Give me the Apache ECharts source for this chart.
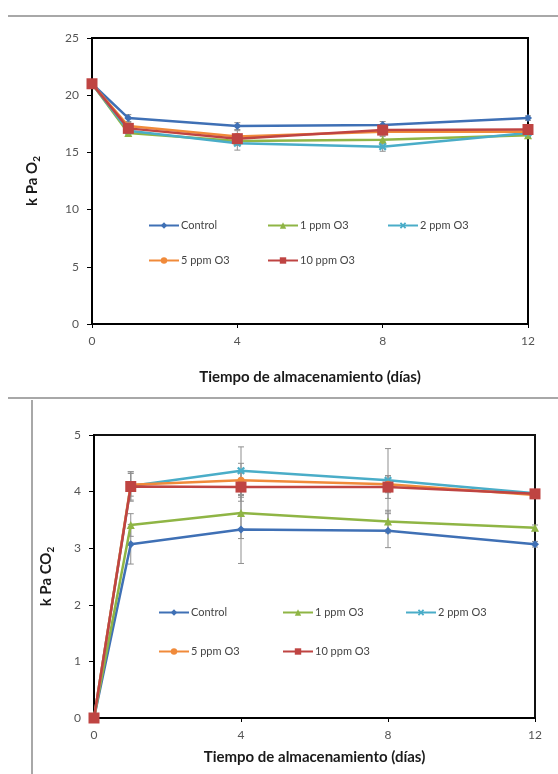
<!DOCTYPE html>
<html>
<head>
<meta charset="utf-8">
<title>O2 y CO2 durante el almacenamiento</title>
<script src="https://cdn.jsdelivr.net/npm/echarts@6/dist/echarts.min.js"></script>
<style>
html, body { margin: 0; padding: 0; background: #fff; }
#chart { width: 558px; height: 774px; }
</style>
</head>
<body>
<div id="chart"></div>
<script>
var dias = [0, 1, 4, 8, 12];
var nombres = ['Control', '1 ppm O3', '2 ppm O3', '5 ppm O3', '10 ppm O3'];

// k Pa O2
var o2Control = [21, 18.0, 17.3, 17.4, 18.0];
var o2Ppm1 = [21, 16.7, 16.0, 16.1, 16.5];
var o2Ppm2 = [21, 16.9, 15.8, 15.5, 16.7];
var o2Ppm5 = [21, 17.3, 16.4, 16.8, 16.8];
var o2Ppm10 = [21, 17.1, 16.2, 16.95, 17.0];
var o2ErrControl = [0, 0.3, 0.3, 0.3, 0.2];
var o2ErrPpm1 = [0, 0.3, 0.4, 0.3, 0.2];
var o2ErrPpm2 = [0, 0.3, 0.6, 0.4, 0.3];
var o2ErrPpm5 = [0, 0.3, 0.5, 0.3, 0.2];
var o2ErrPpm10 = [0, 0.3, 0.4, 0.3, 0.2];

// k Pa CO2
var co2Control = [0, 3.07, 3.33, 3.31, 3.07];
var co2Ppm1 = [0, 3.41, 3.62, 3.47, 3.36];
var co2Ppm2 = [0, 4.10, 4.37, 4.20, 3.97];
var co2Ppm5 = [0, 4.12, 4.20, 4.13, 3.94];
var co2Ppm10 = [0, 4.09, 4.08, 4.08, 3.96];
var co2ErrControl = [0, 0.35, 0.6, 0.3, 0.05];
var co2ErrPpm1 = [0, 0.2, 0.45, 0.2, 0.05];
var co2ErrPpm2 = [0, 0.25, 0.42, 0.56, 0.05];
var co2ErrPpm5 = [0, 0.2, 0.3, 0.15, 0.05];
var co2ErrPpm10 = [0, 0.26, 0.25, 0.2, 0.05];

var o2Ticks = [0, 25, 5];
var co2Ticks = [0, 5, 1];
var diaTicks = [0, 12, 4];

var colores = ['#3F70B5', '#8FB545', '#4AADC8', '#F08A3A', '#BF4442'];
var simbolos = ['diamond', 'triangle',
  'path://M2,0L5,3L8,0L10,2L7,5L10,8L8,10L5,7L2,10L0,8L3,5L0,2Z',
  'circle', 'rect'];
var tamanos = [8, 8, 8, 7, 11];
var fuente = 'Lato';

function serieLinea(i, valores, eje) {
  return {
    name: nombres[i],
    type: 'line',
    xAxisIndex: eje,
    yAxisIndex: eje,
    data: dias.map(function (d, k) { return [d, valores[k]]; }),
    symbol: simbolos[i],
    symbolSize: tamanos[i],
    showSymbol: true,
    lineStyle: { width: 2.5, color: colores[i] },
    itemStyle: { color: colores[i] },
    z: 2 + i
  };
}

function serieError(valores, errores, eje) {
  var datos = [];
  for (var k = 0; k < dias.length; k++) {
    if (errores[k] > 0) datos.push([dias[k], valores[k] - errores[k], valores[k] + errores[k]]);
  }
  return {
    type: 'custom',
    xAxisIndex: eje,
    yAxisIndex: eje,
    silent: true,
    z: 1,
    encode: { x: 0, y: [1, 2] },
    data: datos,
    renderItem: function (params, api) {
      var lo = api.coord([api.value(0), api.value(1)]);
      var hi = api.coord([api.value(0), api.value(2)]);
      var w = 3;
      var st = { stroke: '#8f8f8f', lineWidth: 1 };
      return {
        type: 'group',
        children: [
          { type: 'line', shape: { x1: hi[0], y1: hi[1], x2: lo[0], y2: lo[1] }, style: st },
          { type: 'line', shape: { x1: hi[0] - w, y1: hi[1], x2: hi[0] + w, y2: hi[1] }, style: st },
          { type: 'line', shape: { x1: lo[0] - w, y1: lo[1], x2: lo[0] + w, y2: lo[1] }, style: st }
        ]
      };
    }
  };
}

function ejeX(grid, gap) {
  return {
    gridIndex: grid,
    type: 'value',
    min: diaTicks[0], max: diaTicks[1], interval: diaTicks[2],
    axisLine: { onZero: false, lineStyle: { color: '#000', width: 2 } },
    axisTick: { length: 4, lineStyle: { color: '#000' } },
    axisLabel: { margin: 11, fontFamily: fuente, fontSize: 12, color: '#555' },
    splitLine: { show: false },
    name: 'Tiempo de almacenamiento (días)',
    nameLocation: 'middle',
    nameGap: gap,
    nameTextStyle: { fontFamily: fuente, fontSize: 15, fontWeight: 'bold', color: '#1a1a1a' }
  };
}

function ejeY(grid, ticks, nombre, gap) {
  return {
    gridIndex: grid,
    type: 'value',
    min: ticks[0], max: ticks[1], interval: ticks[2],
    axisLine: { show: true, onZero: false, lineStyle: { color: '#000', width: 2 } },
    axisTick: { show: true, length: 5, lineStyle: { color: '#000' } },
    axisLabel: { margin: 13, fontFamily: fuente, fontSize: 12, color: '#555' },
    splitLine: { show: false },
    name: nombre,
    nameLocation: 'middle',
    nameRotate: 90,
    nameGap: gap,
    nameTextStyle: {
      rich: {
        t: { fontFamily: fuente, fontSize: 15, fontWeight: 'bold', color: '#1a1a1a' },
        s: { fontFamily: fuente, fontSize: 10, fontWeight: 'bold', color: '#1a1a1a', padding: [9, 0, 0, 0] }
      }
    }
  };
}

var legTop = [[148, 227], [267, 227], [387, 227], [148, 262], [267, 262]];
var legBot = [[158, 614], [282, 614], [405, 614], [158, 653], [282, 653]];
var leyendas = [];
[legTop, legBot].forEach(function (pos) {
  pos.forEach(function (p, i) {
    leyendas.push({
      data: [nombres[i]],
      left: p[0],
      top: p[1] - 7,
      padding: 0,
      itemWidth: 30,
      itemHeight: 8,
      itemGap: 0,
      selectedMode: false,
      textStyle: { fontFamily: fuente, fontSize: 11, color: '#444', padding: [0, 0, 0, -3] }
    });
  });
});

var series = [
  serieError(o2Control, o2ErrControl, 0),
  serieError(o2Ppm1, o2ErrPpm1, 0),
  serieError(o2Ppm2, o2ErrPpm2, 0),
  serieError(o2Ppm5, o2ErrPpm5, 0),
  serieError(o2Ppm10, o2ErrPpm10, 0),
  serieError(co2Control, co2ErrControl, 1),
  serieError(co2Ppm1, co2ErrPpm1, 1),
  serieError(co2Ppm2, co2ErrPpm2, 1),
  serieError(co2Ppm5, co2ErrPpm5, 1),
  serieError(co2Ppm10, co2ErrPpm10, 1),
  serieLinea(0, o2Control, 0),
  serieLinea(1, o2Ppm1, 0),
  serieLinea(2, o2Ppm2, 0),
  serieLinea(3, o2Ppm5, 0),
  serieLinea(4, o2Ppm10, 0),
  serieLinea(0, co2Control, 1),
  serieLinea(1, co2Ppm1, 1),
  serieLinea(2, co2Ppm2, 1),
  serieLinea(3, co2Ppm5, 1),
  serieLinea(4, co2Ppm10, 1)
];

var chart = echarts.init(document.getElementById('chart'));
chart.setOption({
  animation: false,
  backgroundColor: '#fff',
  grid: [
    { left: 92, top: 38, width: 436, height: 286, show: true, borderColor: '#000', borderWidth: 2, backgroundColor: '#fff' },
    { left: 94, top: 435, width: 441, height: 283, show: true, borderColor: '#111', borderWidth: 2, backgroundColor: '#fff' }
  ],
  xAxis: [ejeX(0, 46), ejeX(1, 32)],
  yAxis: [
    ejeY(0, o2Ticks, '{t|k Pa O}{s|2}', 50),
    ejeY(1, co2Ticks, '{t|k Pa CO}{s|2}', 38)
  ],
  legend: leyendas,
  graphic: [
    { type: 'line', shape: { x1: 8, y1: 16, x2: 558, y2: 16 }, style: { stroke: '#a8a8a8', lineWidth: 2 } },
    { type: 'line', shape: { x1: 8, y1: 398, x2: 558, y2: 398 }, style: { stroke: '#a8a8a8', lineWidth: 2 } },
    { type: 'line', shape: { x1: 32, y1: 400, x2: 32, y2: 774 }, style: { stroke: '#a8a8a8', lineWidth: 2 } }
  ],
  series: series
});
</script>
</body>
</html>
